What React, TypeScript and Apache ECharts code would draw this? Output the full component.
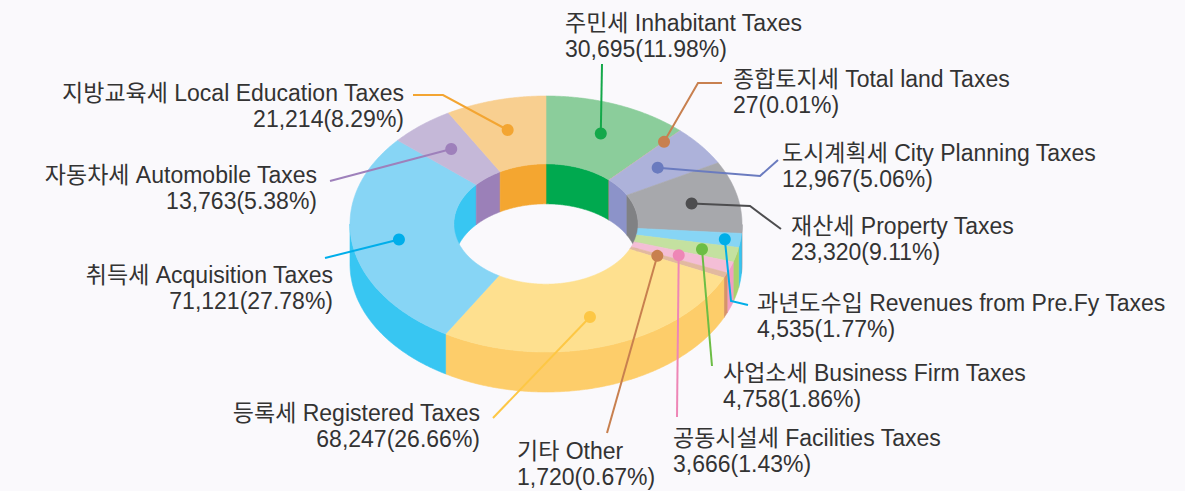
import React, { useEffect, useRef } from 'react';
import * as echarts from 'echarts';

// ---- data (clockwise from the top) ----
const namesKo = ['주민세', '종합토지세', '도시계획세', '재산세', '과년도수입', '사업소세', '공동시설세', '기타', '등록세', '취득세', '자동차세', '지방교육세'];
const namesEn = ['Inhabitant Taxes', 'Total land Taxes', 'City Planning Taxes', 'Property Taxes', 'Revenues from Pre.Fy Taxes', 'Business Firm Taxes', 'Facilities Taxes', 'Other', 'Registered Taxes', 'Acquisition Taxes', 'Automobile Taxes', 'Local Education Taxes'];
const values = [30695, 27, 12967, 23320, 4535, 4758, 3666, 1720, 68247, 71121, 13763, 21214];
const percents = ['11.98', '0.01', '5.06', '9.11', '1.77', '1.86', '1.43', '0.67', '26.66', '27.78', '5.38', '8.29'];

// ---- styles ----
const topColors = ['#8bcd9b', '#e4b79a', '#adb2da', '#a7a8ac', '#87d5f5', '#c4e1a0', '#f4bed6', '#e2b9a0', '#fee08f', '#87d5f5', '#c5b8d8', '#f8cf90'];
const wallColors = ['#00a94f', '#cc8053', '#8c93c9', '#808184', '#36c5f1', '#a8d26b', '#f29ec3', '#d6936b', '#fdcd6a', '#38c6f2', '#9b80b8', '#f4a630'];
const lineColors = ['#14a84a', '#c8804f', '#6a7bbf', '#4d4d4f', '#00aee8', '#6cbd45', '#ee86b6', '#c8804f', '#fdc745', '#00aeea', '#9e80bb', '#f3a532'];

// ---- layout ----
const CX = 546;
const CY = 224;
const R_OUT = 196;
const SQUASH = 128 / 196;
const DEPTH = 40;
const R_IN = 0.47;
const dotRadius = [0.76, 0.88, 0.72, 0.76, 0.92, 0.82, 0.72, 0.62, 0.76, 0.76, 0.76, 0.76];
// x: text edge, y: centre of the first line
const labelLayout: { x: number; y: number; align: 'left' | 'right'; pts: number[][] }[] = [
  { x: 565, y: 23, align: 'left', pts: [[602, 64]] },
  { x: 733, y: 79, align: 'left', pts: [[698, 83], [722, 83]] },
  { x: 782, y: 153, align: 'left', pts: [[760, 176], [778, 160]] },
  { x: 791, y: 226, align: 'left', pts: [[750, 206], [781, 229]] },
  { x: 757, y: 303, align: 'left', pts: [[731, 301], [748, 305]] },
  { x: 723, y: 373, align: 'left', pts: [[712, 366]] },
  { x: 673, y: 438, align: 'left', pts: [[677, 417]] },
  { x: 517, y: 451, align: 'left', pts: [[607, 433]] },
  { x: 480, y: 413, align: 'right', pts: [[493, 418]] },
  { x: 333, y: 275, align: 'right', pts: [[325, 258]] },
  { x: 317, y: 175, align: 'right', pts: [[330, 181]] },
  { x: 404, y: 93, align: 'right', pts: [[443, 95], [413, 95]] },
];
const LINE_GAP = 26;
const FONT_SIZE = 23;
const FONT = "'Liberation Sans', 'Noto Sans CJK KR', sans-serif";

const total = values.reduce((a, b) => a + b, 0);
const starts: number[] = [];
values.reduce((acc, v) => {
  starts.push(acc);
  return acc + v;
}, 0);
const sliceData = values.map((v, i) => ({ value: [starts[i], starts[i] + v], name: namesEn[i] }));

function arcPoints(api: any, c0: number[], r: number, v0: number, v1: number) {
  const span = ((v1 - v0) / total) * 360;
  const n = Math.max(2, Math.ceil(span / 0.5) + 1);
  const out: number[][] = [];
  for (let j = 0; j < n; j++) {
    const v = v0 + ((v1 - v0) * j) / (n - 1);
    const p = api.coord([r, v]);
    out.push([p[0], c0[1] + (p[1] - c0[1]) * SQUASH]);
  }
  return out;
}

function runs(pts: number[][], keep: (p: number[]) => boolean) {
  const res: number[][][] = [];
  let cur: number[][] = [];
  pts.forEach((p) => {
    if (keep(p)) cur.push(p);
    else {
      if (cur.length > 1) res.push(cur);
      cur = [];
    }
  });
  if (cur.length > 1) res.push(cur);
  return res;
}

function band(run: number[][]) {
  return run.concat(run.slice().reverse().map((p) => [p[0], p[1] + DEPTH]));
}

export default function App() {
  const ref = useRef<HTMLDivElement>(null);

  useEffect(() => {
    if (!ref.current) return;
    const chart = echarts.init(ref.current, undefined, { renderer: 'svg' });

    const wallsRender = (params: any, api: any) => {
      const i = params.dataIndex;
      const v0 = api.value(0);
      const v1 = api.value(1);
      const c0 = api.coord([0, 0]);
      const children: any[] = [];
      const color = wallColors[i];
      const outer = arcPoints(api, c0, 1, v0, v1);
      runs(outer, (p) => p[1] >= c0[1] - 0.5).forEach((run) => {
        children.push({ type: 'polygon', shape: { points: band(run) }, style: { fill: color, stroke: color, lineWidth: 0.6 } });
      });
      const inner = arcPoints(api, c0, R_IN, v0, v1);
      runs(inner, (p) => p[1] <= c0[1] + 0.5).forEach((run) => {
        children.push({ type: 'polygon', shape: { points: band(run) }, style: { fill: color, stroke: color, lineWidth: 0.6 } });
      });
      return { type: 'group', children };
    };

    const facesRender = (params: any, api: any) => {
      const i = params.dataIndex;
      const v0 = api.value(0);
      const v1 = api.value(1);
      const c0 = api.coord([0, 0]);
      const outer = arcPoints(api, c0, 1, v0, v1);
      const inner = arcPoints(api, c0, R_IN, v0, v1);
      const pts = outer.concat(inner.reverse());
      const color = topColors[i];
      return { type: 'polygon', shape: { points: pts }, style: { fill: color, stroke: color, lineWidth: 0.6 } };
    };

    const labelsRender = (params: any, api: any) => {
      const i = params.dataIndex;
      const v0 = api.value(0);
      const v1 = api.value(1);
      const c0 = api.coord([0, 0]);
      const p = api.coord([dotRadius[i], (v0 + v1) / 2]);
      const dot = [p[0], c0[1] + (p[1] - c0[1]) * SQUASH];
      const lay = labelLayout[i];
      const color = lineColors[i];
      const text = `${namesKo[i]} ${namesEn[i]}\n${values[i].toLocaleString('en-US')}(${percents[i]}%)`;
      return {
        type: 'group',
        children: [
          { type: 'polyline', shape: { points: [dot, ...lay.pts] }, style: { stroke: color, lineWidth: 2, fill: 'none' } },
          { type: 'circle', shape: { cx: dot[0], cy: dot[1], r: 6 }, style: { fill: color } },
          {
            type: 'text',
            x: lay.x,
            y: lay.y + LINE_GAP / 2,
            style: {
              text,
              fill: '#333333',
              fontSize: FONT_SIZE,
              lineHeight: LINE_GAP,
              fontFamily: FONT,
              align: lay.align,
              verticalAlign: 'middle',
            },
          },
        ],
      };
    };

    chart.setOption({
      animation: false,
      backgroundColor: '#faf9fc',
      polar: { center: [CX, CY], radius: R_OUT },
      angleAxis: { type: 'value', min: 0, max: total, startAngle: 90, clockwise: true, show: false },
      radiusAxis: { type: 'value', min: 0, max: 1, show: false },
      series: [
        { type: 'custom', coordinateSystem: 'polar', data: sliceData, renderItem: wallsRender, z: 1, silent: true },
        { type: 'custom', coordinateSystem: 'polar', data: sliceData, renderItem: facesRender, z: 2, silent: true },
        { type: 'custom', coordinateSystem: 'polar', data: sliceData, renderItem: labelsRender, z: 3, silent: true },
      ],
    });

    return () => chart.dispose();
  }, []);

  return (
    <div
      ref={ref}
      style={{ position: 'absolute', left: 0, top: 0, width: 1185, height: 491, background: '#faf9fc' }}
    />
  );
}
